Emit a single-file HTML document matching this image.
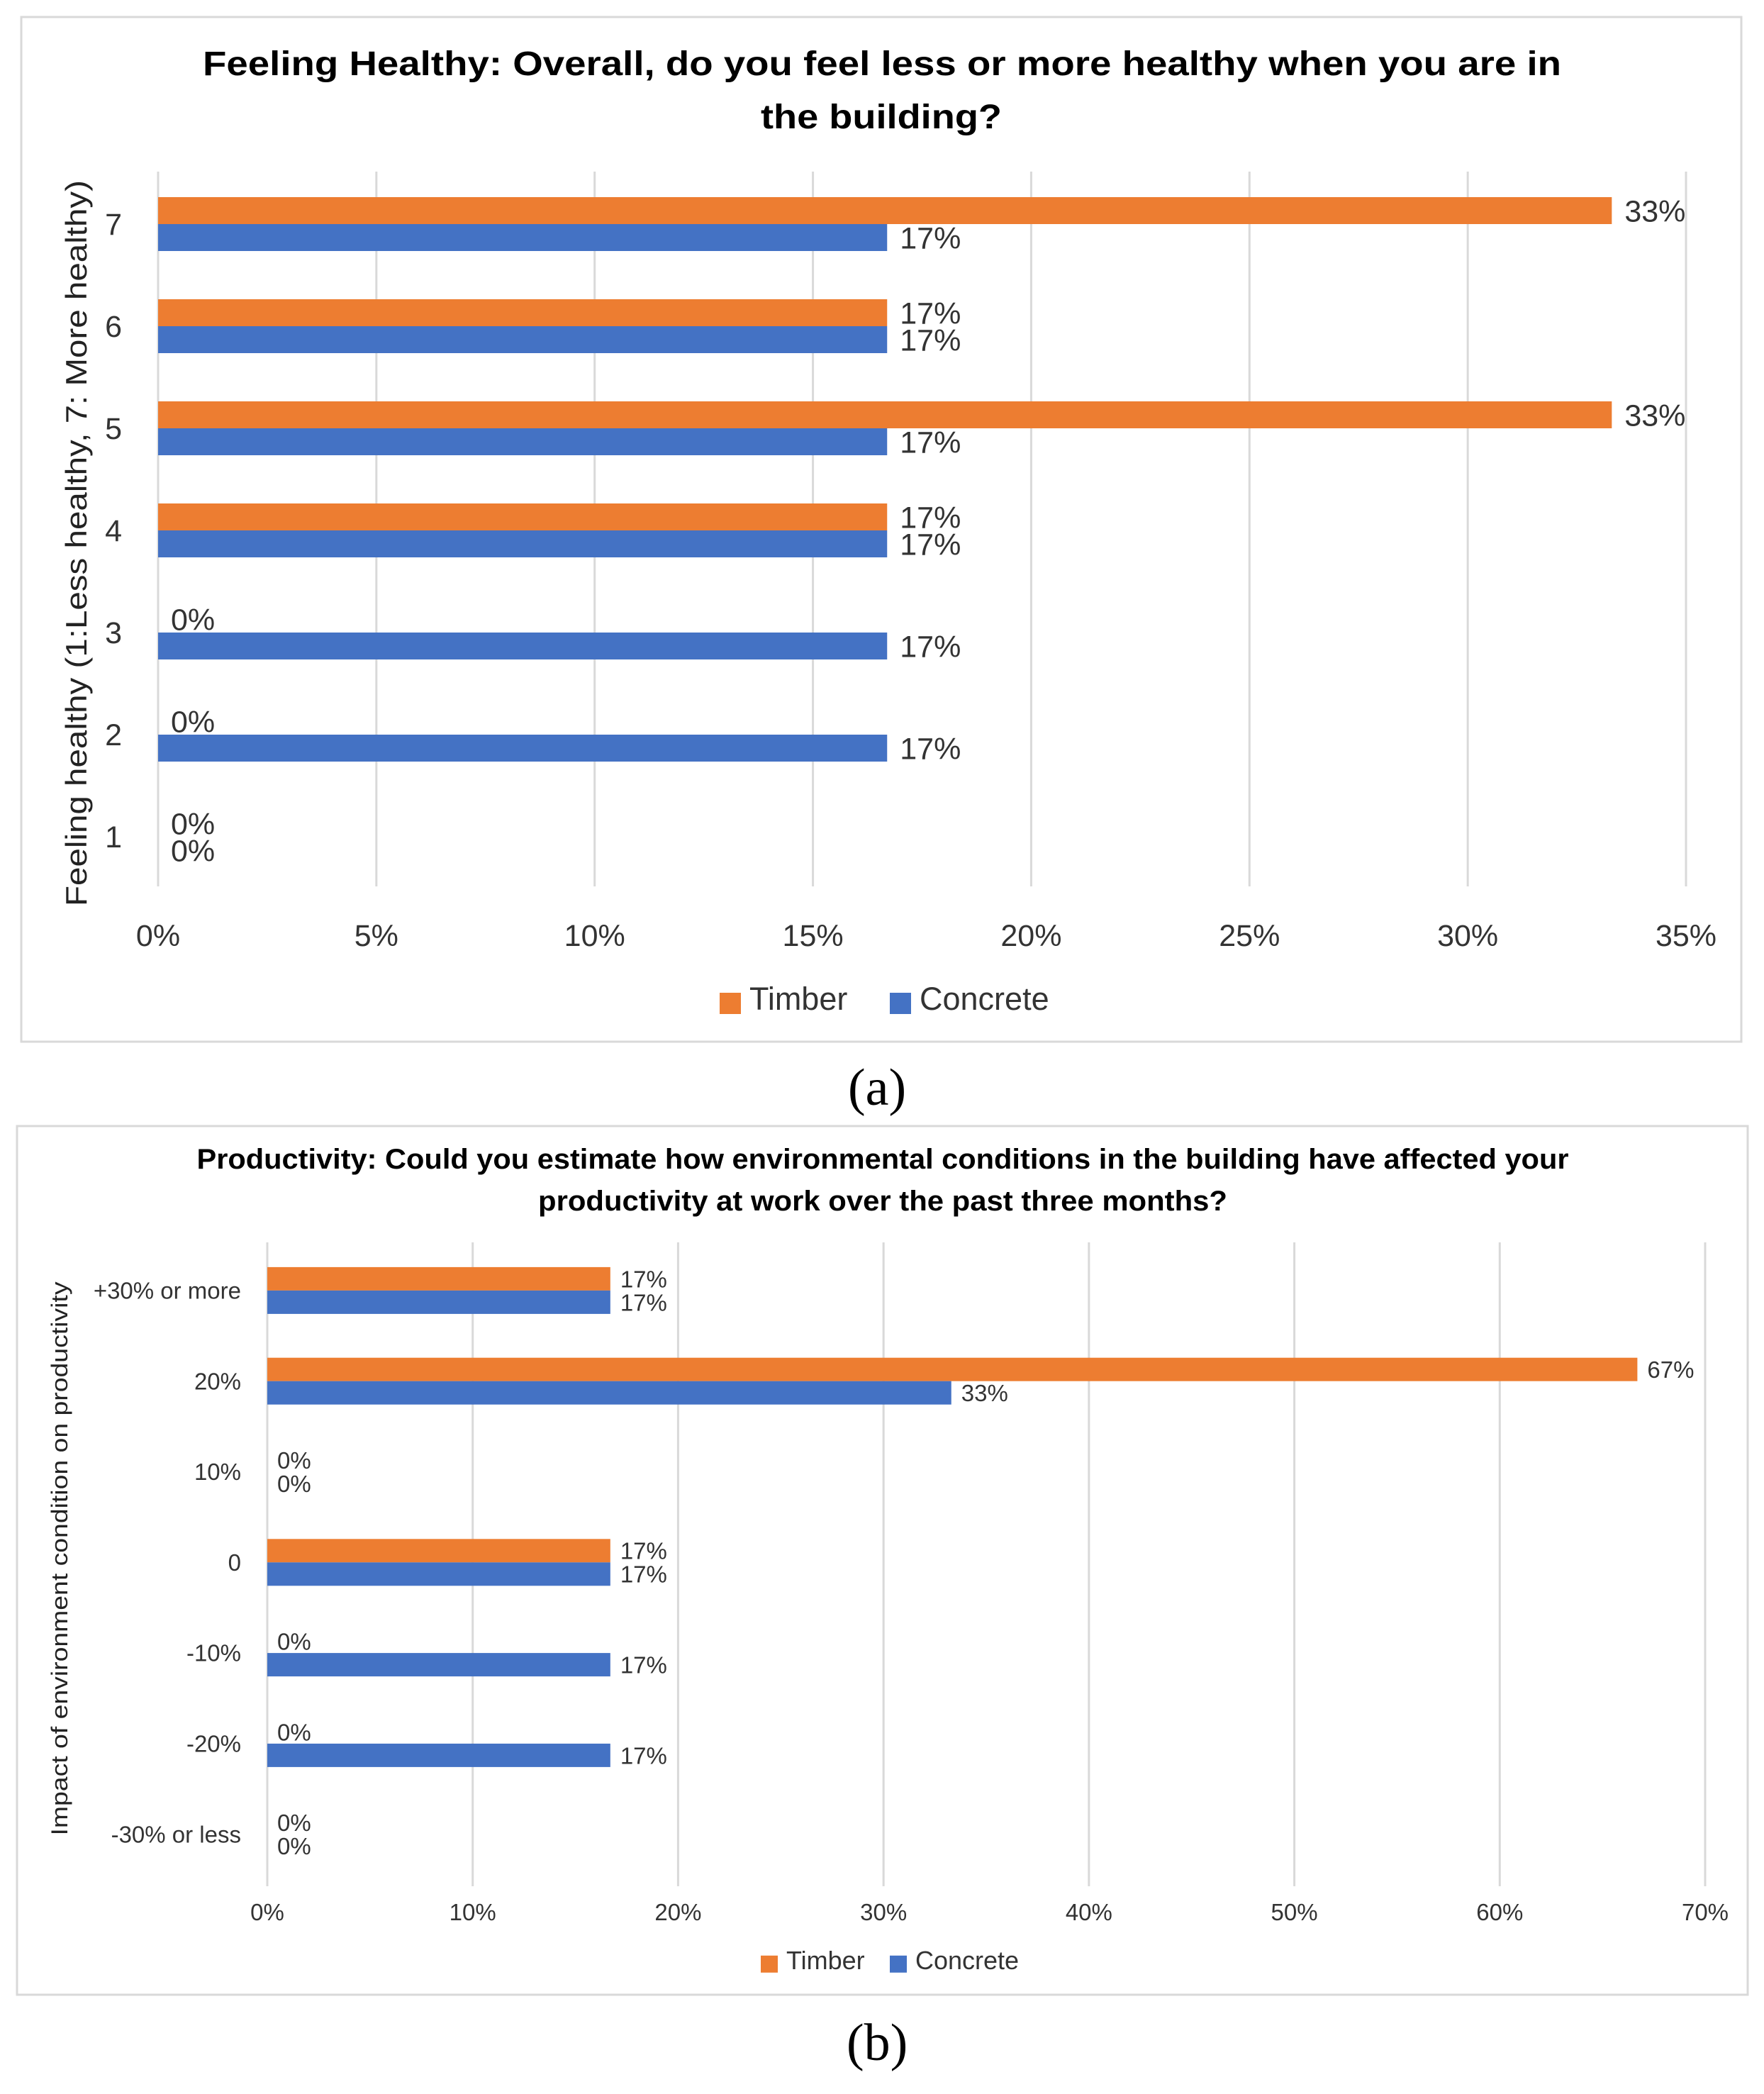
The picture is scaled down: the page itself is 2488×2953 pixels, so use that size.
<!DOCTYPE html>
<html><head><meta charset="utf-8"><style>
html,body{margin:0;padding:0;background:#fff;}
svg{display:block;font-family:"Liberation Sans",sans-serif;}
</style></head><body>
<svg id="s" width="2488" height="2953" viewBox="0 0 2488 2953" xmlns="http://www.w3.org/2000/svg">
<rect x="30" y="24" width="2426" height="1445" fill="#fff" stroke="#d9d9d9" stroke-width="3"/>
<rect x="24" y="1588" width="2441" height="1225" fill="#fff" stroke="#d9d9d9" stroke-width="3"/>
<text x="1244" y="106" font-size="48" font-weight="bold" text-anchor="middle" textLength="1916" lengthAdjust="spacingAndGlyphs">Feeling Healthy: Overall, do you feel less or more healthy when you are in</text>
<text x="1243" y="181" font-size="48" font-weight="bold" text-anchor="middle" textLength="340" lengthAdjust="spacingAndGlyphs">the building?</text>
<text transform="translate(122,766) rotate(-90)" font-size="42" text-anchor="middle" textLength="1024" lengthAdjust="spacingAndGlyphs" fill="#222">Feeling healthy (1:Less healthy, 7: More healthy)</text>
<text x="1196" y="1558" font-size="74" font-family="Liberation Serif,serif">(a)</text>
<text x="1245" y="1648" font-size="40" font-weight="bold" text-anchor="middle" textLength="1935" lengthAdjust="spacingAndGlyphs">Productivity: Could you estimate how environmental conditions in the building have affected your</text>
<text x="1245" y="1707" font-size="40" font-weight="bold" text-anchor="middle" textLength="972" lengthAdjust="spacingAndGlyphs">productivity at work over the past three months?</text>
<text transform="translate(95,2198) rotate(-90)" font-size="32" text-anchor="middle" textLength="781" lengthAdjust="spacingAndGlyphs" fill="#222">Impact of environment condition on productivity</text>
<text x="1194" y="2905" font-size="74" font-family="Liberation Serif,serif">(b)</text>
<g id="ga"></g><g id="gb"></g>
</svg>
<script>
const aCats=["7","6","5","4","3","2","1"];
const aTimber=[33.3,16.7,33.3,16.7,0,0,0];
const aConcrete=[16.7,16.7,16.7,16.7,16.7,16.7,0];
const aTicks=[0,5,10,15,20,25,30,35];
const bCats=["+30% or more","20%","10%","0","-10%","-20%","-30% or less"];
const bTimber=[16.7,66.7,0,16.7,0,0,0];
const bConcrete=[16.7,33.3,0,16.7,16.7,16.7,0];
const bTicks=[0,10,20,30,40,50,60,70];
const NS="http://www.w3.org/2000/svg";
function mk(p,t,at,txt){const e=document.createElementNS(NS,t);for(const k in at)e.setAttribute(k,at[k]);if(txt!==undefined)e.textContent=txt;p.appendChild(e);return e;}
function chart(g,c){
  const sx=v=>c.x0+(c.x1-c.x0)*v/c.max;
  const sy=i=>c.top+c.band*(i+0.5);
  c.ticks.forEach(t=>{
    const l=mk(g,'line',{x1:sx(t),x2:sx(t),y1:c.gTop,y2:c.gBot,stroke:'#d9d9d9','stroke-width':3});
    
    
    const tx=mk(g,'text',{x:sx(t),y:c.tickY,'font-size':c.fs,'text-anchor':'middle',fill:'#333'},t+'%');
    
    
  });
  c.cats.forEach((cat,i)=>{
    const cy=sy(i);
    const cl=mk(g,'text',{x:c.catX,y:cy+c.fs*0.35,'font-size':c.catFs,'text-anchor':'end',fill:'#333'},cat);
    
    
    [[c.timber[i],'#ed7d31',cy-c.bh,'timber'],[c.concrete[i],'#4472c4',cy,'concrete']].forEach(([v,col,y,nm])=>{
      const r=mk(g,'rect',{x:c.x0,y:y,width:Math.max(0,sx(v)-c.x0),height:c.bh,fill:col});
      
      
      const lb=mk(g,'text',{x:sx(v)+c.lp,y:y+c.bh/2+c.fs*0.36,'font-size':c.fs,fill:'#333'},Math.round(v)+'%');
      
      
    });
  });
  const lg=[['Timber','#ed7d31',c.lg[0]],['Concrete','#4472c4',c.lg[1]]];
  lg.forEach(([n,col,x])=>{
    const r=mk(g,'rect',{x:x,y:c.legY-c.ls*0.8,width:c.ls,height:c.ls,fill:col});
    
    
    const t=mk(g,'text',{x:x+c.ls+12,y:c.legY,'font-size':c.lfs,fill:'#333'},n);
    
    
  });
}
chart(document.getElementById('ga'),{cats:aCats,timber:aTimber,concrete:aConcrete,ticks:aTicks,max:35,x0:223,x1:2378,top:244,band:144,bh:38,gTop:242,gBot:1250,tickY:1334,fs:43,catFs:43,catX:172,lp:18,lg:[1015,1255],legY:1424,ls:30,lfs:45});
chart(document.getElementById('gb'),{cats:bCats,timber:bTimber,concrete:bConcrete,ticks:bTicks,max:70,x0:377,x1:2405,top:1756,band:127.8,bh:33,gTop:1752,gBot:2660,tickY:2708,fs:33,catFs:33,catX:340,lp:14,lg:[1073,1255],legY:2777,ls:24,lfs:36});
</script>
</body></html>
